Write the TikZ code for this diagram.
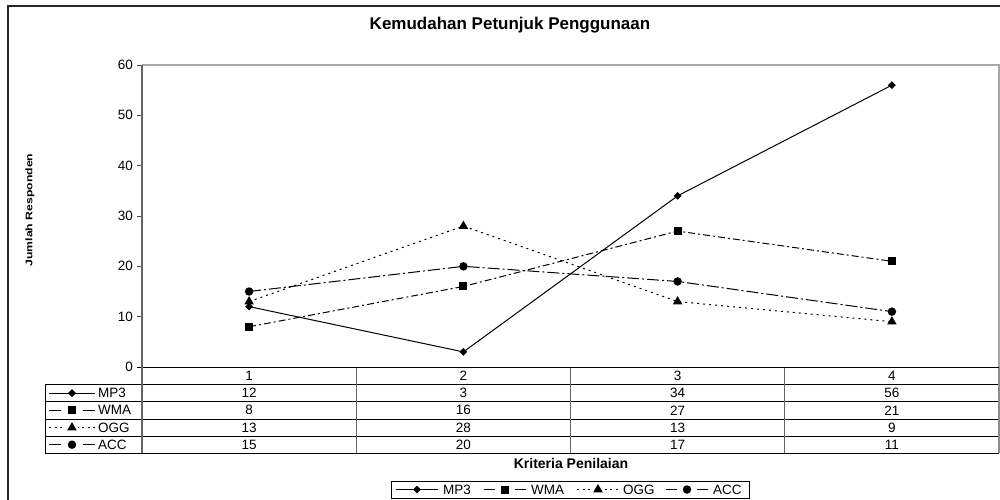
\documentclass[tikz,border=0pt]{standalone}
\usepackage{fontspec}
\setmainfont{Liberation Sans}
\usetikzlibrary{shapes.geometric}
\newcommand\kMP[3]{\draw[serline] (#1,#2) -- ++(#3,0); \node[mkdia] at ({#1+#3/2},#2) {};}
\newcommand\kWM[3]{\draw[serline] (#1,#2) -- ++({#3*0.26},0); \draw[serline] ({#1+#3*0.74},#2) -- ++({#3*0.26},0); \node[mksq] at ({#1+#3/2},#2) {};}
\newcommand\kOG[3]{\draw[serline, dash pattern=on 2pt off 3.5pt] (#1,#2) -- ++(#3,0); \fill[white] ({#1+#3/2-6},{#2-5}) rectangle ({#1+#3/2+6},{#2+5}); \node[mktri] at ({#1+#3/2},#2) {};}
\newcommand\kAC[3]{\draw[serline] (#1,#2) -- ++({#3*0.26},0); \draw[serline] ({#1+#3*0.74},#2) -- ++({#3*0.26},0); \node[mkcir] at ({#1+#3/2},#2) {};}
\begin{document}
\begin{tikzpicture}[x=1pt,y=-1pt,
  lbl/.style={font=\fontsize{13.5}{15}\selectfont, inner sep=0pt},
  serline/.style={black, line width=1pt},
  mpline/.style={serline},
  wmline/.style={serline, dash pattern=on 7pt off 3pt on 2pt off 3pt},
  ogline/.style={serline, dash pattern=on 2pt off 4pt},
  acline/.style={serline, dash pattern=on 12pt off 3pt on 2pt off 3pt},
  mkdia/.style={diamond, fill=black, inner sep=0pt, minimum size=8pt},
  mksq/.style={rectangle, fill=black, inner sep=0pt, minimum size=8pt},
  mktri/.style={regular polygon, regular polygon sides=3, fill=black, inner sep=0pt, minimum size=11pt},
  mkcir/.style={circle, fill=black, inner sep=0pt, minimum size=8.5pt},
  tline/.style={black, line width=1pt},
  vline/.style={black!60, line width=1.3pt}]
\useasboundingbox (0,0) rectangle (1000,500);
\fill[white] (0,0) rectangle (1000,500);
% outer frame
\draw[black!85, line width=1.8pt] (8,500) -- (8,6) -- (1000,6);
% title
\node[font=\fontsize{17}{20}\selectfont\bfseries, inner sep=0pt] (title) at (510,25) {Kemudahan Petunjuk Penggunaan};
% plot area
\draw[black!35, line width=1.5pt] (142,65) -- (999,65) -- (999,367);
% y ticks
\foreach \v in {0,1,...,6} {
  \draw[black!70, line width=0.8pt] (137,{367-\v*50.333}) -- (142,{367-\v*50.333});
  \node[lbl, anchor=east] (yt\v) at (133,{367-\v*50.333}) {\pgfmathparse{int(\v*10)}\pgfmathresult};
}
% y axis title
\node[rotate=90, inner sep=0pt] (ytitle) at (30,210) {\scalebox{1}[0.78]{\fontsize{12.2}{14}\selectfont\bfseries Jumlah Responden}};
% table
\foreach \yy in {384.5,401.7,419,436.2,453.3} \draw[tline] (45,\yy) -- (999,\yy);
\draw[tline] (45,384.5) -- (45,453.3);
\foreach \xx in {356.25,570.5,784.75} \draw[vline] (\xx,367) -- (\xx,453.3);
\draw[black!45, line width=1.3pt] (999,367) -- (999,453.3);
% x axis and left axis
\draw[black, line width=1pt] (137,367) -- (999,367);
\draw[black!60, line width=1.6pt] (142,65) -- (142,453.3);
% category header
\foreach \i/\xc in {1/249.1,2/463.4,3/677.6,4/891.9} \node[lbl] (hc\i) at (\xc,375.7) {\i};
% table values
\foreach \r/\yc/\a/\b/\c/\d in {mp/393.1/12/3/34/56, wm/410.3/8/16/27/21, og/427.6/13/28/13/9, ac/444.7/15/20/17/11} {
  \node[lbl] (\r v1) at (249.1,\yc) {\a};
  \node[lbl] (\r v2) at (463.4,\yc) {\b};
  \node[lbl] (\r v3) at (677.6,\yc) {\c};
  \node[lbl] (\r v4) at (891.9,\yc) {\d};
}
% table row keys
\kMP{49}{393.1}{46}
\node[lbl, anchor=west] (tkmp) at (98,393.1) {MP3};
\kWM{49}{410.3}{46}
\node[lbl, anchor=west] (tkwm) at (98,410.3) {WMA};
\kOG{49}{427.6}{46}
\node[lbl, anchor=west] (tkog) at (98,427.6) {OGG};
\kAC{49}{444.7}{46}
\node[lbl, anchor=west] (tkac) at (98,444.7) {ACC};
% x axis title
\node[font=\fontsize{14}{16}\selectfont\bfseries, inner sep=0pt] (xtitle) at (571,463) {Kriteria Penilaian};
% data coordinates
\foreach \s/\a/\b/\c/\d in {mp/12/3/34/56, wm/8/16/27/21, og/13/28/13/9, ac/15/20/17/11} {
  \coordinate (\s1) at (249.1,{367-\a*5.0333});
  \coordinate (\s2) at (463.4,{367-\b*5.0333});
  \coordinate (\s3) at (677.6,{367-\c*5.0333});
  \coordinate (\s4) at (891.9,{367-\d*5.0333});
}
% series
\draw[mpline] (mp1) -- (mp2) -- (mp3) -- (mp4);
\foreach \i in {1,...,4} \node[mkdia] (mpm\i) at (mp\i) {};
\draw[wmline] (wm1) -- (wm2) -- (wm3) -- (wm4);
\foreach \i in {1,...,4} \node[mksq] (wmm\i) at (wm\i) {};
\draw[ogline] (og1) -- (og2) -- (og3) -- (og4);
\foreach \i in {1,...,4} \node[mktri] (ogm\i) at (og\i) {};
\draw[acline] (ac1) -- (ac2) -- (ac3) -- (ac4);
\foreach \i in {1,...,4} \node[mkcir] (acm\i) at (ac\i) {};
% legend
\draw[black, line width=1pt] (391,481) rectangle (749,498);
\kMP{396}{489.5}{42}
\node[lbl, anchor=west] (lgmp) at (443,489.5) {MP3};
\kWM{484}{489.5}{42}
\node[lbl, anchor=west] (lgwm) at (531,489.5) {WMA};
\kOG{577}{489.5}{42}
\node[lbl, anchor=west] (lgog) at (623,489.5) {OGG};
\kAC{666}{489.5}{42}
\node[lbl, anchor=west] (lgac) at (713,489.5) {ACC};
\end{tikzpicture}
\end{document}
